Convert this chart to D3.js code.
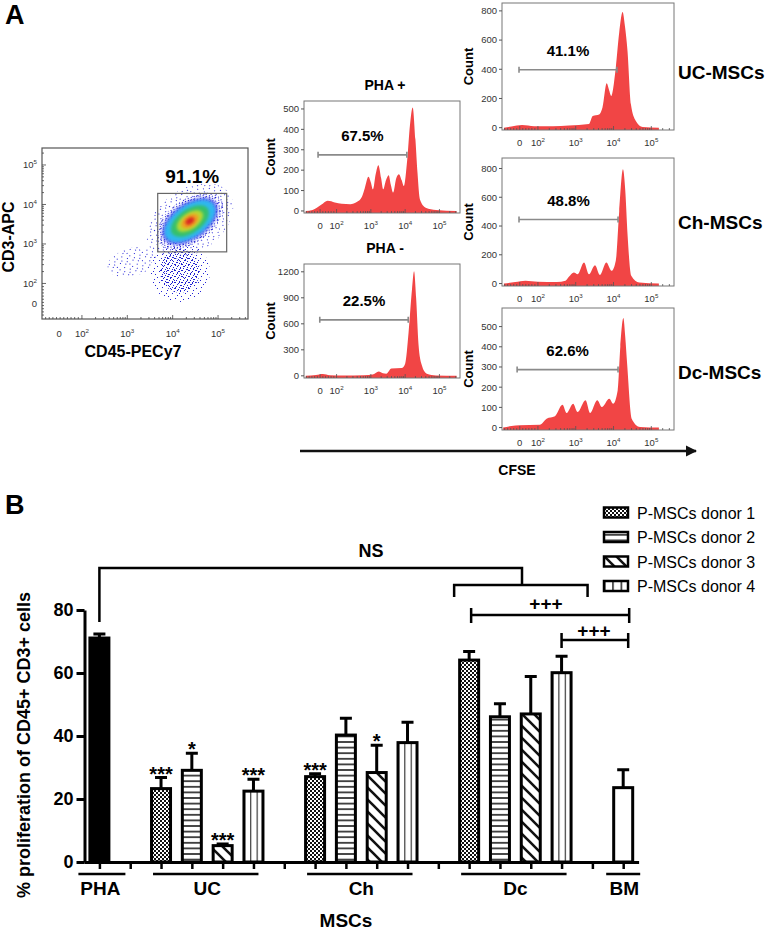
<!DOCTYPE html>
<html><head><meta charset="utf-8">
<script src="https://cdn.jsdelivr.net/npm/d3@7"></script>
<style>
body{margin:0;background:#fff;}
svg{display:block;}
</style></head><body>
<svg id="c" width="768" height="930"></svg>
<script>
// ================= DATA =================
// Panel A – CFSE histograms: [decade position, count]  (1.52 = "0", 2 = 10^2 ... 5 = 10^5)
const histTitles   = ["PHA +", "PHA -", "UC-MSCs", "Ch-MSCs", "Dc-MSCs"];
const histPercents = ["67.5%", "22.5%", "41.1%", "48.8%", "62.6%"];
const histGateLevel = [275, 646, 397, 445, 287];
const histGateStart = [1.46, 1.51, 1.50, 1.50, 1.45];
const histGateEnd   = [4.05, 4.09, 4.09, 4.12, 4.12];
const phaPlusTicks  = [0, 100, 200, 300, 400, 500];
const phaMinusTicks = [0, 300, 600, 900, 1200];
const ucTicks = [0, 200, 400, 600, 800];
const chTicks = [0, 200, 400, 600, 800];
const dcTicks = [0, 100, 200, 300, 400, 500];
const cfseTickPos    = [1.52, 2, 3, 4, 5];
const cfseTickLabels = ["0", "10^2", "10^3", "10^4", "10^5"];

const phaPlusCounts = [[1.1,0],[1.3,5],[1.55,30],[1.74,50],[1.95,42],[2.15,35],[2.4,33],[2.6,45],[2.74,70],[2.82,110],[2.93,168],[3.0,140],[3.06,106],[3.14,180],[3.22,224],[3.3,160],[3.36,106],[3.44,150],[3.52,175],[3.58,130],[3.65,90],[3.74,160],[3.82,180],[3.9,150],[3.96,122],[4.06,250],[4.14,420],[4.22,507],[4.3,350],[4.36,188],[4.43,57],[4.6,16],[4.9,5],[5.5,0]];
const phaMinusCounts = [[1.1,0],[1.4,10],[1.6,22],[1.8,8],[2.2,5],[2.8,8],[3.05,15],[3.23,50],[3.35,30],[3.45,25],[3.6,85],[3.9,90],[4.0,140],[4.1,500],[4.2,1000],[4.26,1207],[4.32,900],[4.39,360],[4.48,130],[4.63,25],[4.9,5],[5.5,0]];
const ucCounts = [[1.1,0],[1.3,8],[1.58,18],[1.9,10],[2.4,10],[2.82,15],[3.35,25],[3.45,80],[3.62,91],[3.71,140],[3.82,304],[3.88,260],[3.94,217],[4.06,411],[4.15,650],[4.24,793],[4.3,700],[4.37,526],[4.46,160],[4.59,46],[4.77,5],[5.2,0]];
const chCounts = [[1.1,0],[1.4,10],[1.67,19],[2.0,12],[2.5,10],[2.73,20],[2.82,47],[2.95,77],[3.05,65],[3.22,147],[3.35,65],[3.51,128],[3.64,60],[3.81,147],[3.95,89],[4.06,159],[4.15,500],[4.25,795],[4.31,650],[4.37,345],[4.47,54],[4.68,7],[5.2,0]];
const dcCounts = [[1.08,0],[1.3,8],[1.52,12],[2.05,14],[2.23,44],[2.45,56],[2.65,113],[2.76,72],[2.93,118],[3.05,77],[3.26,135],[3.38,72],[3.57,135],[3.69,102],[3.89,143],[3.99,118],[4.11,184],[4.18,400],[4.26,543],[4.31,450],[4.36,316],[4.48,44],[4.7,3],[5.2,0]];

// Panel A – CD45/CD3 dot plot, density levels (decade units)
const scatterTickPos    = [1.5, 2, 3, 4, 5];
const scatterTickLabels = ["0", "10^2", "10^3", "10^4", "10^5"];
const scatterGateX = [3.67, 5.19];
const scatterGateY = [2.8, 4.28];
const scatterGatePercent = "91.1%";
const mainCloudCenter = [4.38, 3.58];
const mainCloudMajor = [1.06, 0.84, 0.70, 0.64, 0.48, 0.33, 0.22, 0.11];
const mainCloudMinor = [0.70, 0.48, 0.40, 0.35, 0.26, 0.18, 0.13, 0.066];
const lowCloudCenters = [[4.16, 2.29], [4.16, 2.32], [3.1, 2.54]];
const lowCloudMajor = [0.66, 0.44, 0.55];
const lowCloudMinor = [0.66, 0.48, 0.31];

// Panel B – % proliferation of CD45+ CD3+ cells
const groupNames = ["PHA", "UC", "Ch", "Dc", "BM"];
const donorLabels = ["P-MSCs donor 1", "P-MSCs donor 2", "P-MSCs donor 3", "P-MSCs donor 4"];
const phaMean = [71.1]; const phaSem = [1.3];
const ucMean = [23.3, 29.1, 5.2, 22.5]; const ucSem = [3.5, 5.4, 0.5, 3.8];
const chMean = [27.1, 40.3, 28.4, 37.9]; const chSem = [0.9, 5.3, 8.7, 6.5];
const dcMean = [64.1, 46.1, 47.0, 60.1]; const dcSem = [2.7, 4.1, 11.9, 5.2];
const bmMean = [23.6]; const bmSem = [5.7];
const ucStars = ["***", "*", "***", "***"];
const chStars = ["***", "", "*", ""];
const dcStars = ["", "", "", ""];
const yTicks = [0, 20, 40, 60, 80];

// ================= DRAWING =================
const FONT = "'Liberation Sans', Arial, Helvetica, sans-serif";
const svg = d3.select("#c").style("font-family", FONT);
const defs = svg.append("defs");

function supLabel(t, label, size) {
  const parts = label.split("^");
  t.text(parts[0]);
  if (parts[1]) t.append("tspan").attr("font-size", size * 0.65).attr("dy", -size * 0.45).text(parts[1]);
}

// panel letters
svg.append("text").attr("x", 5).attr("y", 24).attr("font-size", 27).attr("font-weight", "bold").text("A");
svg.append("text").attr("x", 5).attr("y", 514).attr("font-size", 27).attr("font-weight", "bold").text("B");

// ---------- histograms ----------
const histLayout = [
  {x0:304, x1:460, y0:101, y1:213, lo:-10, hi:539, ticks:phaPlusTicks, title:"top"},
  {x0:304, x1:460, y0:264, y1:378, lo:-25, hi:1290, ticks:phaMinusTicks, title:"top"},
  {x0:502, x1:674, y0:3,   y1:130, lo:-16, hi:854, ticks:ucTicks, title:"side"},
  {x0:502, x1:674, y0:158, y1:286, lo:-17, hi:873, ticks:chTicks, title:"side"},
  {x0:502, x1:674, y0:308, y1:430, lo:-12, hi:592, ticks:dcTicks, title:"side"}
];
const histCounts = [phaPlusCounts, phaMinusCounts, ucCounts, chCounts, dcCounts];
const cfseDomain = [1.05, 5.6];

histLayout.forEach((L, i) => {
  const xs = d3.scaleLinear().domain(cfseDomain).range([L.x0, L.x1]);
  const ys = d3.scaleLinear().domain([L.lo, L.hi]).range([L.y1, L.y0]);
  const g = svg.append("g");
  const cid = "hclip" + i;
  defs.append("clipPath").attr("id", cid).append("rect")
    .attr("x", L.x0).attr("y", L.y0).attr("width", L.x1 - L.x0).attr("height", L.y1 - L.y0);
  g.append("path").datum(histCounts[i])
    .attr("d", d3.area().x(d => xs(d[0])).y0(L.y1).y1(d => ys(d[1])).curve(d3.curveMonotoneX))
    .attr("fill", "#f14545").attr("clip-path", `url(#${cid})`);
  g.append("rect").attr("x", L.x0).attr("y", L.y0).attr("width", L.x1 - L.x0).attr("height", L.y1 - L.y0)
    .attr("fill", "none").attr("stroke", "#777").attr("stroke-width", 1);
  // y axis
  L.ticks.forEach(v => {
    g.append("line").attr("x1", L.x0 - 3).attr("x2", L.x0).attr("y1", ys(v)).attr("y2", ys(v)).attr("stroke", "#555");
    g.append("text").attr("x", L.x0 - 5).attr("y", ys(v)).attr("dy", "0.35em").attr("text-anchor", "end")
      .attr("font-size", 9.5).attr("fill", "#333").text(v);
  });
  // x minor ticks
  for (let k = 2; k <= 5; k++) {
    for (let m = 1; m <= 9; m++) {
      const p = k + Math.log10(m);
      if (p > cfseDomain[1]) continue;
      g.append("line").attr("x1", xs(p)).attr("x2", xs(p)).attr("y1", L.y1).attr("y2", L.y1 - (m === 1 ? 4 : 2))
        .attr("stroke", "#555").attr("stroke-width", 0.8);
    }
  }
  [1.12, 1.2, 1.28, 1.36, 1.44, 1.52, 1.6, 1.68, 1.76, 1.84, 1.92].forEach(p => {
    g.append("line").attr("x1", xs(p)).attr("x2", xs(p)).attr("y1", L.y1).attr("y2", L.y1 - (p === 1.52 ? 4 : 2))
      .attr("stroke", "#555").attr("stroke-width", 0.8);
  });
  cfseTickPos.forEach((p, j) => {
    const t = g.append("text").attr("x", xs(p)).attr("y", L.y1 + 16).attr("text-anchor", "middle")
      .attr("font-size", 9.5).attr("fill", "#333");
    supLabel(t, cfseTickLabels[j], 9.5);
  });
  // gate
  const gy = ys(histGateLevel[i]);
  const gx0 = xs(histGateStart[i]), gx1 = xs(histGateEnd[i]);
  g.append("path").attr("d", `M${gx0},${gy - 3}V${gy + 3}M${gx0},${gy}H${gx1}M${gx1},${gy - 3}V${gy + 3}`)
    .attr("stroke", "#8a8a8a").attr("stroke-width", 1.6).attr("fill", "none");
  g.append("text").attr("x", (gx0 + gx1) / 2).attr("y", gy - 14).attr("text-anchor", "middle")
    .attr("font-size", 15).attr("font-weight", "bold").text(histPercents[i]);
  // Count label
  g.append("text").attr("transform", `translate(${L.x0 - 29},${(L.y0 + L.y1) / 2}) rotate(-90)`)
    .attr("text-anchor", "middle").attr("font-size", 13).attr("font-weight", "bold").text("Count");
  // title
  if (L.title === "top") {
    g.append("text").attr("x", (L.x0 + L.x1) / 2 + 3).attr("y", L.y0 - 11).attr("text-anchor", "middle")
      .attr("font-size", 14).attr("font-weight", "bold").text(histTitles[i]);
  } else {
    g.append("text").attr("x", 678).attr("y", gy + 9).attr("font-size", 19).attr("font-weight", "bold").text(histTitles[i]);
  }
});

// CFSE arrow
defs.append("marker").attr("id", "arrow").attr("viewBox", "0 0 10 10").attr("refX", 9).attr("refY", 5)
  .attr("markerWidth", 4.5).attr("markerHeight", 4.5).attr("orient", "auto")
  .append("path").attr("d", "M0,0 L10,5 L0,10 z").attr("fill", "#111");
svg.append("line").attr("x1", 300).attr("x2", 696).attr("y1", 451).attr("y2", 451)
  .attr("stroke", "#111").attr("stroke-width", 2.5).attr("marker-end", "url(#arrow)");
svg.append("text").attr("x", 517).attr("y", 475).attr("text-anchor", "middle").attr("font-size", 14)
  .attr("font-weight", "bold").text("CFSE");

// ---------- scatter dot plot ----------
(function () {
  const F = {x0: 42, x1: 248, y0: 148, y1: 319};
  const sx = d3.scaleLinear().domain([1.12, 5.66]).range([F.x0, F.x1]);
  const sy = d3.scaleLinear().domain([1.1, 5.43]).range([F.y1, F.y0]);
  const g = svg.append("g");
  defs.append("clipPath").attr("id", "sclip").append("rect")
    .attr("x", F.x0).attr("y", F.y0).attr("width", F.x1 - F.x0).attr("height", F.y1 - F.y0);
  // dot textures
  const sparse = defs.append("pattern").attr("id", "dotsSparse").attr("patternUnits", "userSpaceOnUse")
    .attr("width", 13).attr("height", 11);
  [[1,2],[6,1],[11,4],[3,7],[8,9],[12,10],[5,5],[10,7]].forEach(d =>
    sparse.append("rect").attr("x", d[0]).attr("y", d[1]).attr("width", 1).attr("height", 1).attr("fill", "#2424d8"));
  const dense = defs.append("pattern").attr("id", "dotsDense").attr("patternUnits", "userSpaceOnUse")
    .attr("width", 7).attr("height", 6);
  [[0,0],[3,1],[5,3],[1,4],[4,5],[6,0],[2,2]].forEach(d =>
    dense.append("rect").attr("x", d[0]).attr("y", d[1]).attr("width", 1).attr("height", 1).attr("fill", "#2020d0"));
  defs.append("filter").attr("id", "soft").attr("x", "-50%").attr("y", "-50%").attr("width", "200%").attr("height", "200%")
    .append("feGaussianBlur").attr("stdDeviation", 1.6);
  const pxPerDec = sx(2) - sx(1);
  const cg = g.append("g").attr("clip-path", "url(#sclip)");
  // lower cloud and trailing cells
  lowCloudCenters.forEach((c, i) => {
    cg.append("ellipse").attr("cx", sx(c[0])).attr("cy", sy(c[1]))
      .attr("rx", lowCloudMajor[i] * pxPerDec).attr("ry", lowCloudMinor[i] * pxPerDec)
      .attr("transform", i === 2 ? `rotate(-15,${sx(c[0])},${sy(c[1])})` : null)
      .attr("fill", i === 1 ? "url(#dotsDense)" : "url(#dotsSparse)");
  });
  const mainFills = ["url(#dotsSparse)", "url(#dotsDense)", "#4a4af0", "#2fb8f0", "#34c06a", "#b8d830", "#f0a020", "#d82020"];
  const cx = sx(mainCloudCenter[0]), cy = sy(mainCloudCenter[1]);
  mainCloudMajor.forEach((a, i) => {
    cg.append("ellipse").attr("cx", cx).attr("cy", cy)
      .attr("rx", a * pxPerDec).attr("ry", mainCloudMinor[i] * pxPerDec)
      .attr("transform", `rotate(-35,${cx},${cy})`)
      .attr("fill", mainFills[i]).attr("opacity", i === 2 ? 0.8 : 1)
      .attr("filter", i >= 2 ? "url(#soft)" : null);
  });
  g.append("rect").attr("x", F.x0).attr("y", F.y0).attr("width", F.x1 - F.x0).attr("height", F.y1 - F.y0)
    .attr("fill", "none").attr("stroke", "#555").attr("stroke-width", 1.2);
  // gate
  g.append("rect").attr("x", sx(scatterGateX[0])).attr("y", sy(scatterGateY[1]))
    .attr("width", sx(scatterGateX[1]) - sx(scatterGateX[0])).attr("height", sy(scatterGateY[0]) - sy(scatterGateY[1]))
    .attr("fill", "none").attr("stroke", "#666").attr("stroke-width", 1.2);
  g.append("text").attr("x", (sx(scatterGateX[0]) + sx(scatterGateX[1])) / 2).attr("y", sy(scatterGateY[1]) - 10)
    .attr("text-anchor", "middle").attr("font-size", 19).attr("font-weight", "bold").text(scatterGatePercent);
  // minor ticks
  for (let k = 2; k <= 5; k++) for (let m = 1; m <= 9; m++) {
    const p = k + Math.log10(m);
    if (p < 5.66) g.append("line").attr("x1", sx(p)).attr("x2", sx(p)).attr("y1", F.y1).attr("y2", F.y1 - (m === 1 ? 4 : 2)).attr("stroke", "#444").attr("stroke-width", 0.8);
    if (p < 5.43) g.append("line").attr("y1", sy(p)).attr("y2", sy(p)).attr("x1", F.x0).attr("x2", F.x0 + (m === 1 ? 4 : 2)).attr("stroke", "#444").attr("stroke-width", 0.8);
  }
  [1.2, 1.28, 1.36, 1.44, 1.52, 1.6, 1.68, 1.76, 1.84, 1.92].forEach(p => {
    g.append("line").attr("x1", sx(p)).attr("x2", sx(p)).attr("y1", F.y1).attr("y2", F.y1 - 2).attr("stroke", "#444").attr("stroke-width", 0.8);
    g.append("line").attr("y1", sy(p)).attr("y2", sy(p)).attr("x1", F.x0).attr("x2", F.x0 + 2).attr("stroke", "#444").attr("stroke-width", 0.8);
  });
  scatterTickPos.forEach((p, j) => {
    const t = g.append("text").attr("x", sx(p)).attr("y", F.y1 + 18).attr("text-anchor", "middle").attr("font-size", 9.5).attr("fill", "#333");
    supLabel(t, scatterTickLabels[j], 9.5);
    const t2 = g.append("text").attr("x", F.x0 - 5).attr("y", sy(p)).attr("dy", "0.35em").attr("text-anchor", "end").attr("font-size", 9.5).attr("fill", "#333");
    supLabel(t2, scatterTickLabels[j], 9.5);
  });
  g.append("text").attr("x", (F.x0 + F.x1) / 2 - 12).attr("y", 357).attr("text-anchor", "middle")
    .attr("font-size", 16).attr("font-weight", "bold").text("CD45-PECy7");
  g.append("text").attr("transform", `translate(14,237) rotate(-90)`).attr("text-anchor", "middle")
    .attr("font-size", 16).attr("font-weight", "bold").text("CD3-APC");
})();

// ---------- Panel B bar chart ----------
// fill patterns
(function () {
  const p1 = defs.append("pattern").attr("id", "pDonor1").attr("patternUnits", "userSpaceOnUse").attr("width", 4).attr("height", 4);
  p1.append("rect").attr("width", 4).attr("height", 4).attr("fill", "#fff");
  p1.append("rect").attr("width", 2).attr("height", 2).attr("fill", "#111");
  p1.append("rect").attr("x", 2).attr("y", 2).attr("width", 2).attr("height", 2).attr("fill", "#111");
  const p2 = defs.append("pattern").attr("id", "pDonor2").attr("patternUnits", "userSpaceOnUse").attr("width", 6).attr("height", 5.6);
  p2.append("rect").attr("width", 6).attr("height", 5.6).attr("fill", "#fff");
  p2.append("line").attr("x1", 0).attr("x2", 6).attr("y1", 2.8).attr("y2", 2.8).attr("stroke", "#111").attr("stroke-width", 1.5);
  const p3 = defs.append("pattern").attr("id", "pDonor3").attr("patternUnits", "userSpaceOnUse").attr("width", 12).attr("height", 12);
  p3.append("rect").attr("width", 12).attr("height", 12).attr("fill", "#fff");
  p3.append("path").attr("d", "M-3,-3L15,15M-3,9L3,15M9,-3L15,3").attr("stroke", "#111").attr("stroke-width", 2.6);
  const p4 = defs.append("pattern").attr("id", "pDonor4").attr("patternUnits", "objectBoundingBox").attr("width", 1 / 3).attr("height", 1);
  p4.append("rect").attr("width", 40).attr("height", 400).attr("fill", "#fff");
  p4.append("line").attr("x1", 0).attr("x2", 0).attr("y1", 0).attr("y2", 400).attr("stroke", "#111").attr("stroke-width", 2);
  const p4b = defs.append("pattern").attr("id", "pDonor4L").attr("patternUnits", "userSpaceOnUse").attr("width", 8.3).attr("height", 20).attr("x", 604);
  p4b.append("rect").attr("width", 8.3).attr("height", 20).attr("fill", "#fff");
  p4b.append("line").attr("x1", 0.5).attr("x2", 0.5).attr("y1", 0).attr("y2", 20).attr("stroke", "#111").attr("stroke-width", 1.8);
})();
const donorFills = ["url(#pDonor1)", "url(#pDonor2)", "url(#pDonor3)", "url(#pDonor4)"];
const legendFills = ["url(#pDonor1)", "url(#pDonor2)", "url(#pDonor3)", "url(#pDonor4L)"];

const slots = [];
function addGroup(name, means, sems, stars, fills) {
  means.forEach((m, i) => slots.push({id: name + i, group: name, mean: m, sem: sems[i], star: stars[i], fill: fills[i]}));
}
addGroup("PHA", phaMean, phaSem, [""], ["#000"]);
slots.push({id: "gap1", gap: true});
addGroup("UC", ucMean, ucSem, ucStars, donorFills);
slots.push({id: "gap2", gap: true});
addGroup("Ch", chMean, chSem, chStars, donorFills);
slots.push({id: "gap3", gap: true});
addGroup("Dc", dcMean, dcSem, dcStars, donorFills);
slots.push({id: "gap4", gap: true});
addGroup("BM", bmMean, bmSem, [""], ["#fff"]);

const x = d3.scalePoint().domain(slots.map(d => d.id)).range([84, 638.6]).padding(0.5);
const y = d3.scaleLinear().domain([0, 80]).range([862, 610]);
const BW = 19;

const gB = svg.append("g");
// axes
const yAxis = gB.append("g").attr("transform", "translate(84.5,0)")
  .call(d3.axisLeft(y).tickValues(yTicks).tickSize(8).tickSizeOuter(0).tickPadding(3));
yAxis.select(".domain").attr("stroke-width", 3);
yAxis.selectAll(".tick line").attr("stroke-width", 3);
yAxis.selectAll(".tick text").attr("font-size", 18).attr("font-weight", "bold").attr("font-family", FONT).attr("fill", "#000");

const bars = slots.filter(d => !d.gap);
gB.selectAll("rect.bar").data(bars).join("rect").attr("class", "bar")
  .attr("x", d => x(d.id) - BW / 2).attr("width", BW)
  .attr("y", d => y(d.mean)).attr("height", d => y(0) - y(d.mean))
  .attr("fill", d => d.fill).attr("stroke", "#000").attr("stroke-width", 3);
// error bars
gB.selectAll("path.err").data(bars).join("path").attr("class", "err")
  .attr("d", d => `M${x(d.id)},${y(d.mean)}V${y(d.mean + d.sem)}M${x(d.id) - 6},${y(d.mean + d.sem)}H${x(d.id) + 6}`)
  .attr("stroke", "#000").attr("stroke-width", 3).attr("fill", "none");
// stars
gB.selectAll("text.star").data(bars.filter(d => d.star)).join("text").attr("class", "star")
  .attr("x", d => x(d.id)).attr("y", d => y(d.mean + d.sem) + 3).attr("text-anchor", "middle")
  .attr("font-size", 20).attr("font-weight", "bold").text(d => d.star);

const xAxis = gB.append("g").attr("transform", "translate(0,862)")
  .call(d3.axisBottom(x).tickSize(7).tickSizeOuter(0).tickFormat(""));
xAxis.select(".domain").attr("stroke-width", 3);
xAxis.selectAll(".tick line").attr("stroke-width", 2.5);

// group underlines + labels
groupNames.forEach(gname => {
  const ids = slots.filter(d => d.group === gname).map(d => x(d.id));
  const single = ids.length === 1;
  const xa = single ? ids[0] - (gname === "BM" ? 17 : 21) : ids[0] - 8;
  const xb = single ? ids[0] + (gname === "BM" ? 17 : 26) : ids[ids.length - 1] + 5;
  gB.append("line").attr("x1", xa).attr("x2", xb).attr("y1", 874).attr("y2", 874).attr("stroke", "#000").attr("stroke-width", 2.5);
  gB.append("text").attr("x", (ids[0] + ids[ids.length - 1]) / 2 + (single ? 1 : 0)).attr("y", 895).attr("text-anchor", "middle")
    .attr("font-size", 19).attr("font-weight", "bold").text(gname);
});
gB.append("text").attr("x", 346).attr("y", 927).attr("text-anchor", "middle").attr("font-size", 19).attr("font-weight", "bold").text("MSCs");
gB.append("text").attr("transform", "translate(30,745) rotate(-90)").attr("text-anchor", "middle")
  .attr("font-size", 18).attr("font-weight", "bold").text("% proliferation of CD45+ CD3+ cells");

// comparison brackets
const xPHA = x("PHA0"), xDc1 = x("Dc0"), xDc4 = x("Dc3"), xBM = x("BM0");
const nsRight = 522;
gB.append("path").attr("d", `M${xPHA},${y(76.2)}V${y(93.3)}H${nsRight}V${y(87.9)}`)
  .attr("stroke", "#000").attr("stroke-width", 2.5).attr("fill", "none");
gB.append("path").attr("d", `M${xDc1 - 15},${y(84.1)}V${y(87.9)}H${xDc4 + 26}V${y(84.1)}`)
  .attr("stroke", "#000").attr("stroke-width", 2.5).attr("fill", "none");
gB.append("text").attr("x", 371).attr("y", 557).attr("text-anchor", "middle").attr("font-size", 18).attr("font-weight", "bold").text("NS");
gB.append("path").attr("d", `M${xDc1 + 2},${y(80.6)}V${y(75.9)}M${xDc1 + 2},${y(78.4)}H${xBM + 6}M${xBM + 6},${y(80.6)}V${y(75.9)}`)
  .attr("stroke", "#000").attr("stroke-width", 2.5).attr("fill", "none");
gB.append("text").attr("x", 546).attr("y", 610).attr("text-anchor", "middle").attr("font-size", 19).attr("font-weight", "bold").text("+++");
gB.append("path").attr("d", `M${xDc4},${y(72.7)}V${y(67.9)}M${xDc4},${y(70.5)}H${xBM + 5}M${xBM + 5},${y(72.7)}V${y(67.9)}`)
  .attr("stroke", "#000").attr("stroke-width", 2.5).attr("fill", "none");
gB.append("text").attr("x", 594).attr("y", 637).attr("text-anchor", "middle").attr("font-size", 19).attr("font-weight", "bold").text("+++");

// legend
donorLabels.forEach((lab, i) => {
  const cy = 512.5 + i * 24.5;
  gB.append("rect").attr("x", 604).attr("y", cy - 5).attr("width", 24).attr("height", 10)
    .attr("fill", legendFills[i]).attr("stroke", "#000").attr("stroke-width", 2.5);
  gB.append("text").attr("x", 637).attr("y", cy + 6).attr("font-size", 16).text(lab);
});
</script>
</body></html>
